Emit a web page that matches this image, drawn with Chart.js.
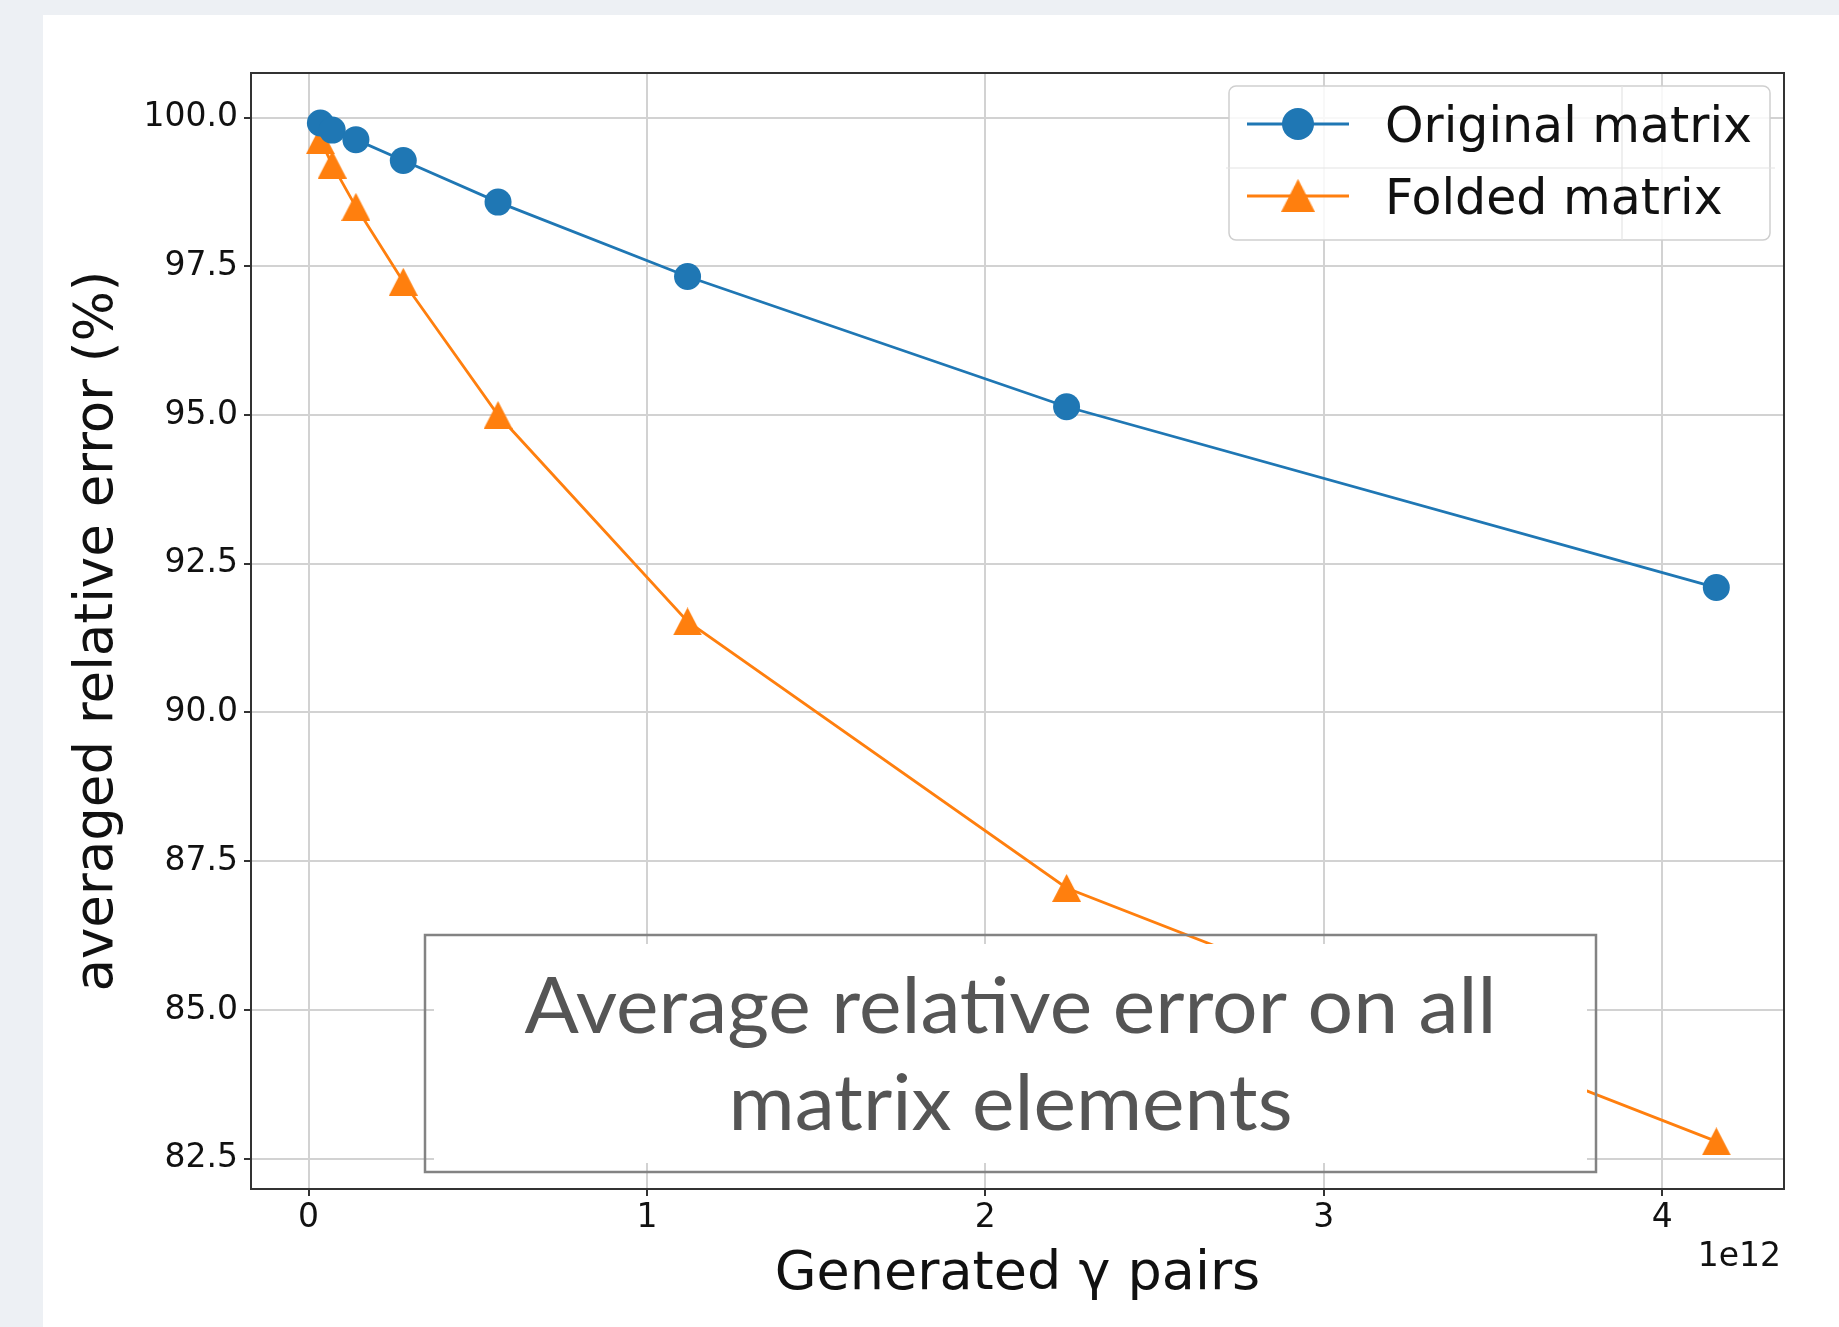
<!DOCTYPE html>
<html><head><meta charset="UTF-8"><title>Average relative error</title>
<script src="https://cdn.jsdelivr.net/npm/chart.js"></script>
<style>
  html, body { margin: 0; padding: 0; }
  body { background: #edf0f4; width: 1839px; height: 1327px; position: relative; overflow: hidden; }
  .panel { position: absolute; left: 43px; top: 15px; right: 0; bottom: 0; background: #fff; }
  #wrap { position: absolute; left: 0; top: 0; width: 1839px; height: 1327px; }
</style></head><body>
<div class="panel"></div>
<div id="wrap"><canvas id="mainChart" width="1839" height="1327"></canvas></div>
<script>
// --- data ---
const gammaPairs  = [3.5e10, 7.0e10, 1.4e11, 2.8e11, 5.6e11, 1.12e12, 2.24e12, 4.16e12];
const originalErr = [99.91, 99.79, 99.63, 99.28, 98.58, 97.33, 95.14, 92.10];
const foldedErr   = [99.62, 99.21, 98.50, 97.24, 95.00, 91.53, 87.05, 82.79];
const seriesNames = ['Original matrix', 'Folded matrix'];
const xTickVals = [0, 1e12, 2e12, 3e12, 4e12];
const yTickVals = [82.5, 85, 87.5, 90, 92.5, 95, 97.5, 100];
const xTitle = 'Generated γ pairs';
const yTitle = 'averaged relative error (%)';
const xOffsetText = '1e12';
const noteLines = ['Average relative error on all', 'matrix elements'];

const BLUE = '#1f77b4', ORANGE = '#ff7f0e';
const TICK_FONT = { family: 'DejaVu Sans', size: 33 };

// matplotlib style '^' marker: bbox centred on the point
function triangleMark(color, w, h) {
    const c = document.createElement('canvas');
    c.width = w; c.height = h;
    const g = c.getContext('2d');
    g.fillStyle = color;
    g.beginPath(); g.moveTo(w / 2, 0); g.lineTo(w, h); g.lineTo(0, h); g.closePath(); g.fill();
    return c;
}
const tri = triangleMark(ORANGE, 29, 28);

const pts = ys => gammaPairs.map((x, i) => ({ x, y: ys[i] }));

const decor = {
    id: 'decor',
    afterDatasetsDraw(chart) {
        const { ctx, chartArea: a } = chart;
        ctx.save();
        ctx.strokeStyle = '#333'; ctx.lineWidth = 2;
        ctx.strokeRect(a.left, a.top, a.right - a.left, a.bottom - a.top);
        ctx.restore();
    },
    afterDraw(chart) {
        const { ctx, chartArea: a } = chart;
        const ds = chart.data.datasets;
        ctx.save();

        // offset text of x axis
        ctx.font = '33px "DejaVu Sans"'; ctx.fillStyle = '#111';
        ctx.textAlign = 'right'; ctx.textBaseline = 'middle';
        ctx.fillText(xOffsetText, a.right - 3, a.bottom + 68);

        // legend
        const lx = a.right - 555, ly = a.top + 13, lw = 541, lh = 154;
        ctx.fillStyle = 'rgba(255,255,255,0.85)';
        ctx.strokeStyle = '#cfcfcf'; ctx.lineWidth = 1.5;
        ctx.beginPath(); ctx.roundRect(lx, ly, lw, lh, 7); ctx.fill(); ctx.stroke();
        // faint seams seen across the legend in the slide
        ctx.strokeStyle = '#e4e4e4'; ctx.lineWidth = 1.2;
        ctx.beginPath();
        ctx.moveTo(lx + 393, ly); ctx.lineTo(lx + 393, ly + lh);
        ctx.moveTo(lx - 3, ly + 82); ctx.lineTo(lx + lw + 5, ly + 82);
        ctx.stroke();
        const rows = [ly + 38, ly + 110];
        ctx.font = '49px "DejaVu Sans"'; ctx.textAlign = 'left'; ctx.textBaseline = 'alphabetic';
        ds.forEach((d, i) => {
            const ry = rows[i];
            ctx.strokeStyle = d.borderColor; ctx.lineWidth = 3.2;
            ctx.beginPath(); ctx.moveTo(lx + 18, ry); ctx.lineTo(lx + 120, ry); ctx.stroke();
            if (i === 0) {
                ctx.fillStyle = d.borderColor;
                ctx.beginPath(); ctx.arc(lx + 69, ry, 16, 0, Math.PI * 2); ctx.fill();
            } else {
                ctx.drawImage(tri, lx + 69 - 17, ry - 17, 34, 33);
            }
            ctx.fillStyle = '#111';
            ctx.fillText(d.label, lx + 156, ry + 18);
        });

        // slide text box laid over the plot
        const bx = a.left + 174, by = a.top + 862, bw = 1171, bh = 237;
        ctx.fillStyle = '#fff';
        ctx.fillRect(bx + 9, by + 9, bw - 18, bh - 18);
        ctx.strokeStyle = '#838383'; ctx.lineWidth = 2.5;
        ctx.strokeRect(bx, by, bw, bh);
        ctx.font = '78px Lato'; ctx.fillStyle = '#555';
        ctx.textAlign = 'center'; ctx.textBaseline = 'alphabetic';
        const sx = 972 / ctx.measureText(noteLines[0]).width;
        const base = [by + 98, by + 195];
        noteLines.forEach((t, i) => {
            ctx.save();
            ctx.translate(bx + bw / 2, base[i]);
            ctx.scale(sx, 1);
            ctx.fillText(t, 0, 0);
            ctx.restore();
        });
        ctx.restore();
    }
};

const ctx = document.getElementById('mainChart').getContext('2d');
new Chart(ctx, {
    type: 'line',
    data: {
        datasets: [
            { label: seriesNames[0], data: pts(originalErr), borderColor: BLUE, backgroundColor: BLUE,
              borderWidth: 2.8, pointStyle: 'circle', pointRadius: 13.5, pointBorderWidth: 0,
              pointBackgroundColor: BLUE, tension: 0, clip: false },
            { label: seriesNames[1], data: pts(foldedErr), borderColor: ORANGE, backgroundColor: ORANGE,
              borderWidth: 2.8, pointStyle: tri, pointRadius: 14, pointBorderWidth: 0,
              tension: 0, clip: false }
        ]
    },
    options: {
        responsive: false, animation: false, devicePixelRatio: 1,
        layout: { padding: { left: 0, top: 73, right: 55, bottom: 0 } },
        plugins: { legend: { display: false }, tooltip: { enabled: false } },
        scales: {
            x: {
                type: 'linear', min: -0.17e12, max: 4.36e12,
                afterFit: s => { s.height = 138; },
                afterBuildTicks: s => { s.ticks = xTickVals.map(v => ({ value: v })); },
                ticks: { font: TICK_FONT, color: '#111', padding: 3, maxRotation: 0,
                         callback: v => String(Math.round(v / 1e12)) },
                grid: { color: '#d2d2d2', lineWidth: 2, tickLength: 7, tickColor: '#333', tickWidth: 2 },
                border: { display: false },
                title: { display: true, text: xTitle, color: '#111',
                         font: { family: 'DejaVu Sans', size: 54 }, padding: { top: 0, bottom: 20 } }
            },
            y: {
                type: 'linear', min: 81.99, max: 100.75,
                afterFit: s => { s.width = 251; },
                afterBuildTicks: s => { s.ticks = yTickVals.map(v => ({ value: v })); },
                ticks: { font: TICK_FONT, color: '#111', padding: 6, callback: v => v.toFixed(1) },
                grid: { color: '#d2d2d2', lineWidth: 2, tickLength: 7, tickColor: '#333', tickWidth: 2 },
                border: { display: false },
                title: { display: true, text: yTitle, color: '#111',
                         font: { family: 'DejaVu Sans', size: 53 }, padding: { top: 66, bottom: 0 } }
            }
        }
    },
    plugins: [decor]
});
</script></body></html>
